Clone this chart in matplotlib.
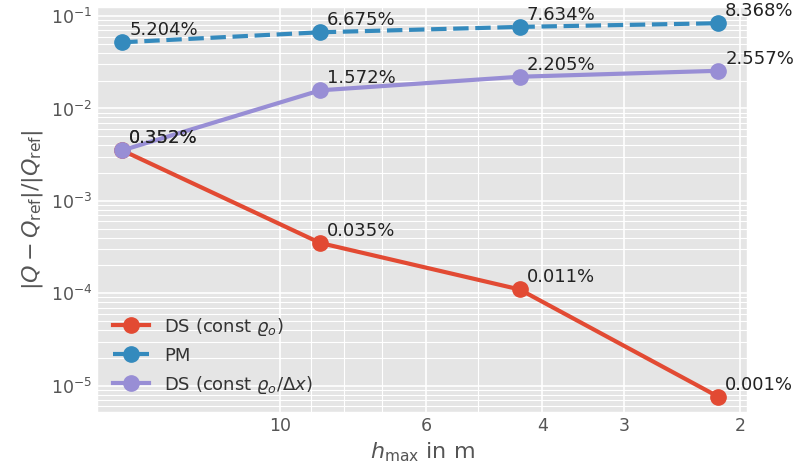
import matplotlib
matplotlib.use("Agg")
import matplotlib.pyplot as plt
from matplotlib.ticker import ScalarFormatter, NullFormatter

plt.style.use('ggplot')
plt.rcParams['font.size'] = 12

# grid sizes h_max in m
h_max = [17.4, 8.7, 4.33, 2.16]

# relative errors
err_ds_rho = [3.52e-3, 3.5e-4, 1.1e-4, 7.6e-6]
err_pm = [0.05204, 0.06675, 0.07634, 0.08368]
err_ds_rho_dx = [3.52e-3, 0.01572, 0.02205, 0.02557]

labels = [r"DS (const $\varrho_o$)", "PM", r"DS (const $\varrho_o/\Delta x$)"]
styles = ['-', '--', '-']

fig, ax = plt.subplots(figsize=(7.96, 4.74), dpi=100)

for err, lab, ls in zip([err_ds_rho, err_pm, err_ds_rho_dx], labels, styles):
    ax.plot(h_max, err, ls, marker='o', lw=3, markersize=11, label=lab)
    for h, e in zip(h_max, err):
        ax.annotate("%.3f%%" % (e * 100), (h, e), xytext=(5, 5),
                    textcoords='offset points', fontsize=13, color='#222222')

ax.set_xscale('log')
ax.set_yscale('log')
ax.set_xlim(19.0, 1.95)
ax.set_ylim(5.2e-6, 0.125)

ax.set_xticks([10, 6, 4, 3, 2])
ax.xaxis.set_major_formatter(ScalarFormatter())
ax.xaxis.set_minor_formatter(NullFormatter())
ax.tick_params(which='both', length=0, labelsize=12.5)

ax.grid(True, which='major', color='white', lw=1.2)
ax.grid(True, which='minor', color='white', lw=0.8)

ax.set_xlabel(r"$h_\mathrm{max}$ in m", fontsize=16)
ax.set_ylabel(r"$|Q - Q_\mathrm{ref}|/|Q_\mathrm{ref}|$", fontsize=16)
leg = ax.legend(loc='lower left', frameon=False, fontsize=13)
for t in leg.get_texts():
    t.set_color('#333333')

plt.subplots_adjust(left=0.122, right=0.939, top=0.985, bottom=0.131)
plt.savefig("out.png")
